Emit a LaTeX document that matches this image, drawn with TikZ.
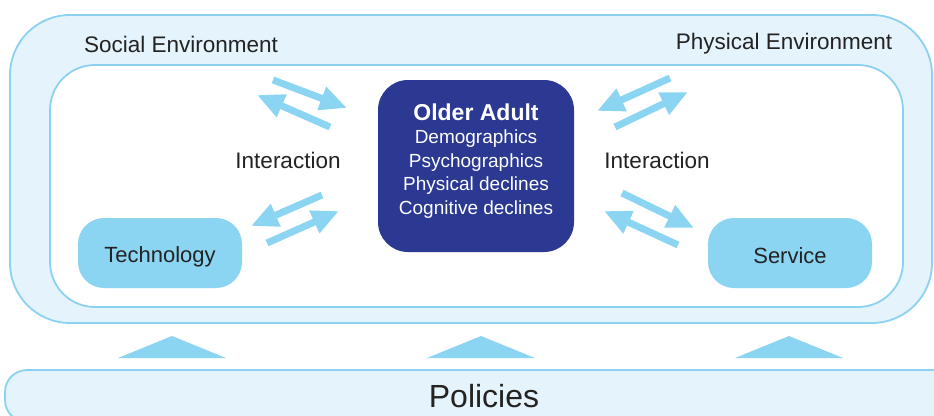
\documentclass[tikz,border=0pt]{standalone}
\usepackage{fontspec}
\setmainfont{Liberation Sans}
\usetikzlibrary{arrows.meta, positioning}
\definecolor{envBlue}{RGB}{228,243,252}
\definecolor{lineBlue}{RGB}{140,210,240}
\definecolor{skyBlue}{RGB}{139,213,243}
\definecolor{adultBlue}{RGB}{43,57,146}
\definecolor{textGray}{RGB}{35,35,35}

\begin{document}
\begin{tikzpicture}[x=1pt, y=-1pt, every node/.style={text=textGray},
		envbox/.style={draw=lineBlue, line width=1.8pt, fill=envBlue},
		actor/.style={fill=skyBlue, rounded corners=26pt, minimum width=164pt, minimum height=70pt, font=\fontsize{22}{26}\selectfont},
		flow/.style={skyBlue, line width=7pt, -{Triangle[length=27pt, width=23pt]}},
		lbl/.style={font=\fontsize{22.5}{27}\selectfont}]
		\path[use as bounding box, clip] (0,0) rectangle (934,415);
		\fill[white] (0,0) rectangle (934,415);
		% Environment frames
		\node[envbox, rounded corners=60pt, minimum width=922pt, minimum height=308pt] (env) at (471,169) {};
		\node[draw=lineBlue, line width=1.8pt, fill=white, rounded corners=45pt, minimum width=853pt, minimum height=242pt] (inner) at (476.5,186) {};
		\node[lbl] (social) at (181,44) {Social Environment};
		\node[lbl] (physical) at (784,44) {Physical Environment};
		% Older adult
		\node[fill=adultBlue, rounded corners=30pt, minimum width=196pt, minimum height=172pt] (adult) at (476,166) {};
		\node[align=center, text=white, font=\fontsize{19}{23.5}\selectfont] (adultTxt) at ([yshift=5pt]adult.center)
			{{\fontsize{23}{23.5}\selectfont\bfseries Older Adult}\\Demographics\\Psychographics\\Physical declines\\Cognitive declines};
		% Technology and service
		\node[actor] (tech) at (160,253) {\raisebox{-4pt}[\height][\depth]{Technology}};
		\node[actor] (serv) at (790,253) {\raisebox{-3pt}[\height][\depth]{Service}};
		\node[lbl] (intL) at (288,160) {Interaction};
		\node[lbl] (intR) at (657,160) {Interaction};
		% Interaction arrows
		\foreach \n/\x/\y in {tlA/273/80, tlB/347/108, tlC/330/127, tlD/257/95,
				blA/322/195, blB/251/226, blC/267/243, blD/339/211,
				trA/670/78, trB/597/111, trC/615/127, trD/688/92,
				brA/622/193, brB/694/228, brC/678/245, brD/604/211}
			\coordinate (\n) at (\x,\y);
		\foreach \p in {tl, bl, tr, br} {
			\draw[flow] (\p A) -- (\p B);
			\draw[flow] (\p C) -- (\p D);
		}
		% Policies
		\node[envbox, rounded corners=22pt, minimum width=958pt, minimum height=52pt, font=\fontsize{32}{36}\selectfont] (pol) at (484,396) {Policies};
		\foreach \x in {172,481,789}
			\fill[skyBlue] (\x-54,358) -- (\x,336) -- (\x+54,358) -- cycle;
	\end{tikzpicture}
\end{document}
